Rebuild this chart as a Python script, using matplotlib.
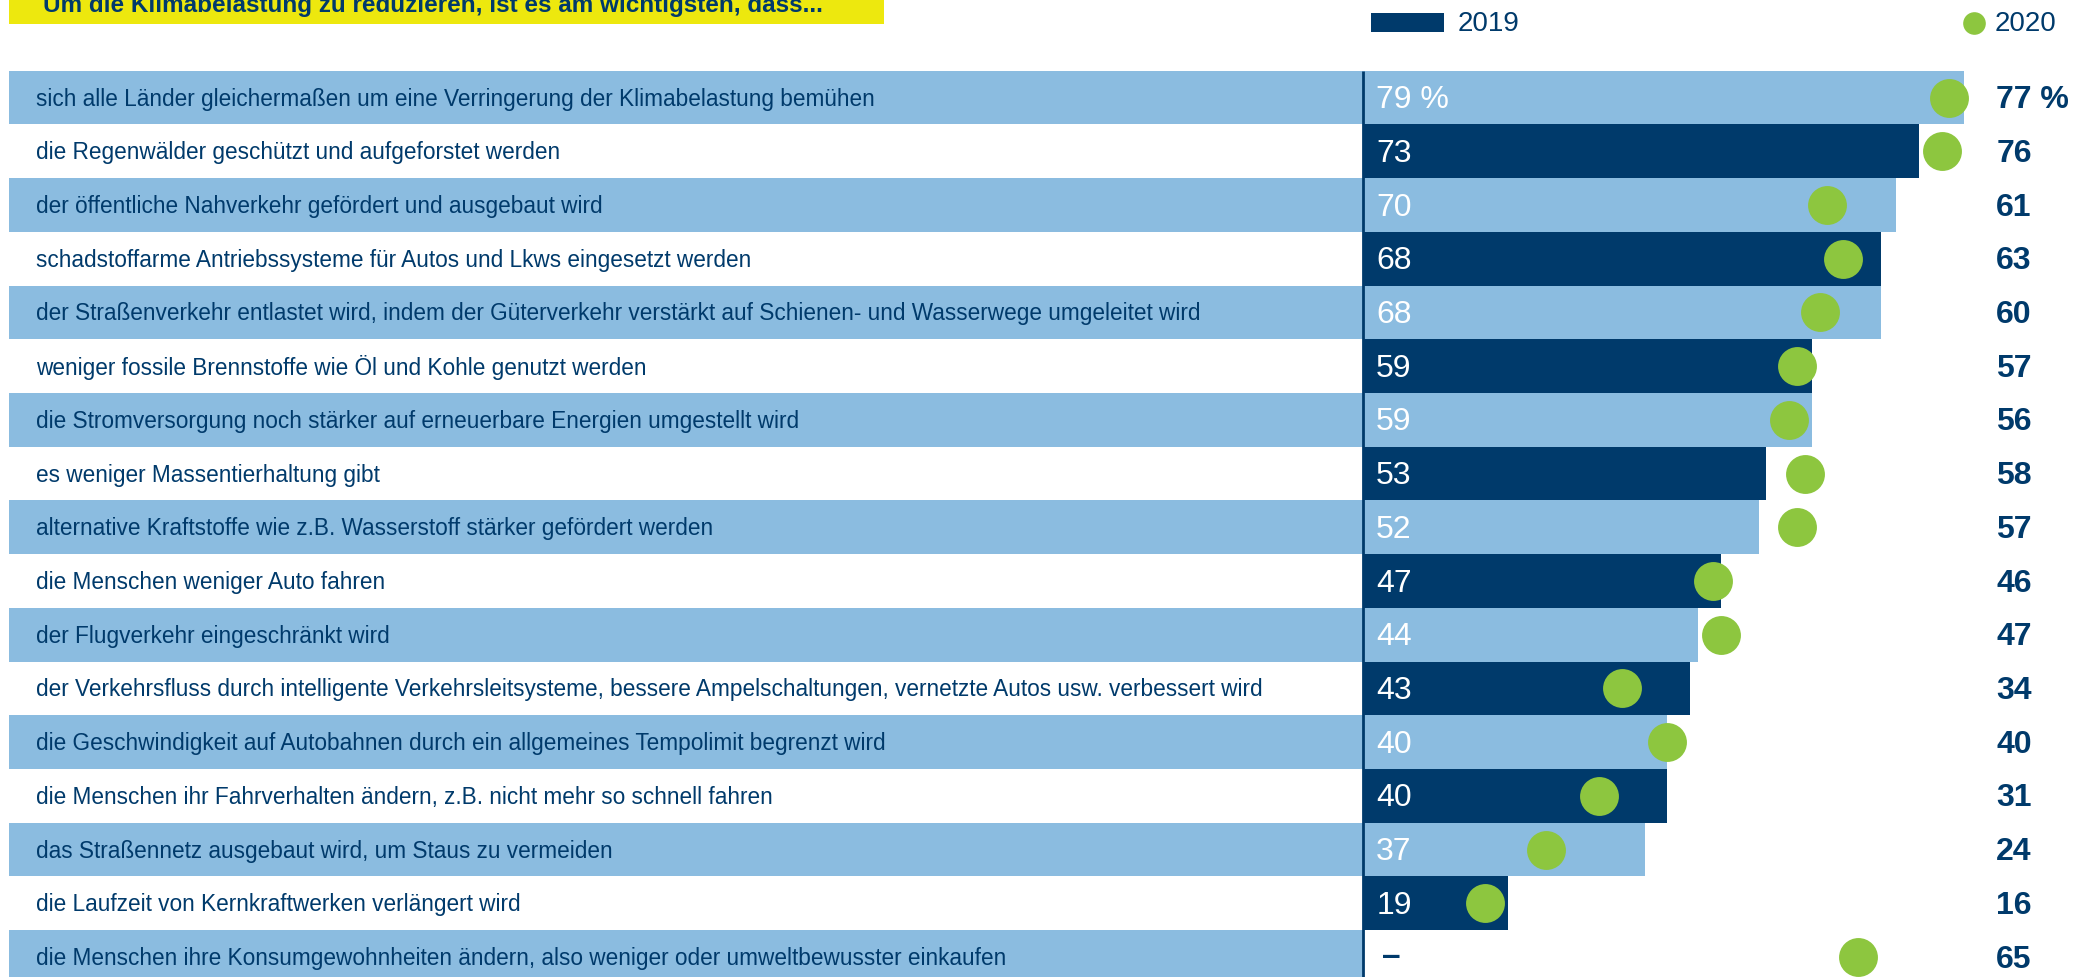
import matplotlib
matplotlib.use('Agg')
from matplotlib import pyplot as plt
from matplotlib.patches import Rectangle
import numpy as np

labels = [
    'sich alle Länder gleichermaßen um eine Verringerung der Klimabelastung bemühen',
    'die Regenwälder geschützt und aufgeforstet werden',
    'der öffentliche Nahverkehr gefördert und ausgebaut wird',
    'schadstoffarme Antriebssysteme für Autos und Lkws eingesetzt werden',
    'der Straßenverkehr entlastet wird, indem der Güterverkehr verstärkt auf Schienen- und Wasserwege umgeleitet wird',
    'weniger fossile Brennstoffe wie Öl und Kohle genutzt werden',
    'die Stromversorgung noch stärker auf erneuerbare Energien umgestellt wird',
    'es weniger Massentierhaltung gibt',
    'alternative Kraftstoffe wie z.B. Wasserstoff stärker gefördert werden',
    'die Menschen weniger Auto fahren',
    'der Flugverkehr eingeschränkt wird',
    'der Verkehrsfluss durch intelligente Verkehrsleitsysteme, bessere Ampelschaltungen, vernetzte Autos usw. verbessert wird',
    'die Geschwindigkeit auf Autobahnen durch ein allgemeines Tempolimit begrenzt wird',
    'die Menschen ihr Fahrverhalten ändern, z.B. nicht mehr so schnell fahren',
    'das Straßennetz ausgebaut wird, um Staus zu vermeiden',
    'die Laufzeit von Kernkraftwerken verlängert wird',
    'die Menschen ihre Konsumgewohnheiten ändern, also weniger oder umweltbewusster einkaufen',
]
values_2019 = [79, 73, 70, 68, 68, 59, 59, 53, 52, 47, 44, 43, 40, 40, 37, 19, None]
values_2020 = [77, 76, 61, 63, 60, 57, 56, 58, 57, 46, 47, 34, 40, 31, 24, 16, 65]
title = 'Um die Klimabelastung zu reduzieren, ist es am wichtigsten, dass...'

NAVY = '#003a6b'
LIGHT = '#8bbce0'
GREEN = '#8dc63f'
YELLOW = '#ede80e'

FONT = ['Liberation Sans', 'DejaVu Sans']

fig = plt.figure(figsize=(20.91, 9.77), dpi=100)
ax = fig.add_axes([0, 0, 1, 1])
ax.set_axis_off()

# 5.71 px (of 1568 wide) per percent, zero line at 1022
ppp = 5.71
ax.set_xlim(-1022 / ppp, (1568 - 1022) / ppp)
ax.set_ylim((733 - 73.15) / 40.3, -73.15 / 40.3)

n = len(labels)
y = np.arange(n)
bg_left = (7 - 1022) / ppp
light = y % 2 == 0

# label backgrounds for the light rows
ax.barh(y[light], -bg_left, left=bg_left, height=1.0, color=LIGHT, linewidth=0)

v19 = np.array([v if v is not None else 0 for v in values_2019], dtype=float)
cols = [LIGHT if i % 2 == 0 else NAVY for i in range(n)]
ax.barh(y, v19, height=1.0, color=cols, linewidth=0)

ax.vlines(0, -0.5, n, color=NAVY, linewidth=2)

ax.scatter(values_2020, y, s=28 ** 2, color=GREEN, zorder=3, linewidths=0)

for i in range(n):
    ax.text((27 - 1022) / ppp, i + 0.03, labels[i], color=NAVY, fontsize=16.3,
            family=FONT, va='center', ha='left')
    v = values_2019[i]
    if v is None:
        ax.text((1036 - 1022) / ppp, i, '–', color=NAVY, fontsize=24,
                fontweight='bold', family=FONT, va='center', ha='left')
    else:
        s = '%d %%' % v if i == 0 else '%d' % v
        ax.text(1.75, i + 0.05, s, color='white', fontsize=23, family=FONT,
                va='center', ha='left')
    s = '%d %%' % values_2020[i] if i == 0 else '%d' % values_2020[i]
    ax.text((1497 - 1022) / ppp, i + 0.05, s, color=NAVY, fontsize=23,
            fontweight='bold', family=FONT, va='center', ha='left')

# title box
ty0 = -73.15 / 40.3
ty1 = (18 - 73.15) / 40.3
ax.add_patch(Rectangle((bg_left, ty0), (663 - 7) / ppp, ty1 - ty0,
                       color=YELLOW, linewidth=0, clip_on=False))
ax.text((32 - 1022) / ppp, (9 - 73.15) / 40.3, title, color=NAVY, fontsize=17.5,
        fontweight='bold', family=FONT, va='baseline', ha='left')

# legend
ly = (17 - 73.15) / 40.3
ax.add_patch(Rectangle(((1028 - 1022) / ppp, (10 - 73.15) / 40.3),
                       55 / ppp, 14 / 40.3, color=NAVY, linewidth=0))
ax.text((1093 - 1022) / ppp, ly + 0.03, '2019', color=NAVY, fontsize=20,
        family=FONT, va='center', ha='left')
ax.scatter([(1480 - 1022) / ppp], [ly], s=16.3 ** 2, color=GREEN, linewidths=0)
ax.text((1496 - 1022) / ppp, ly + 0.03, '2020', color=NAVY, fontsize=20,
        family=FONT, va='center', ha='left')

fig.savefig('out.png', dpi=100)
